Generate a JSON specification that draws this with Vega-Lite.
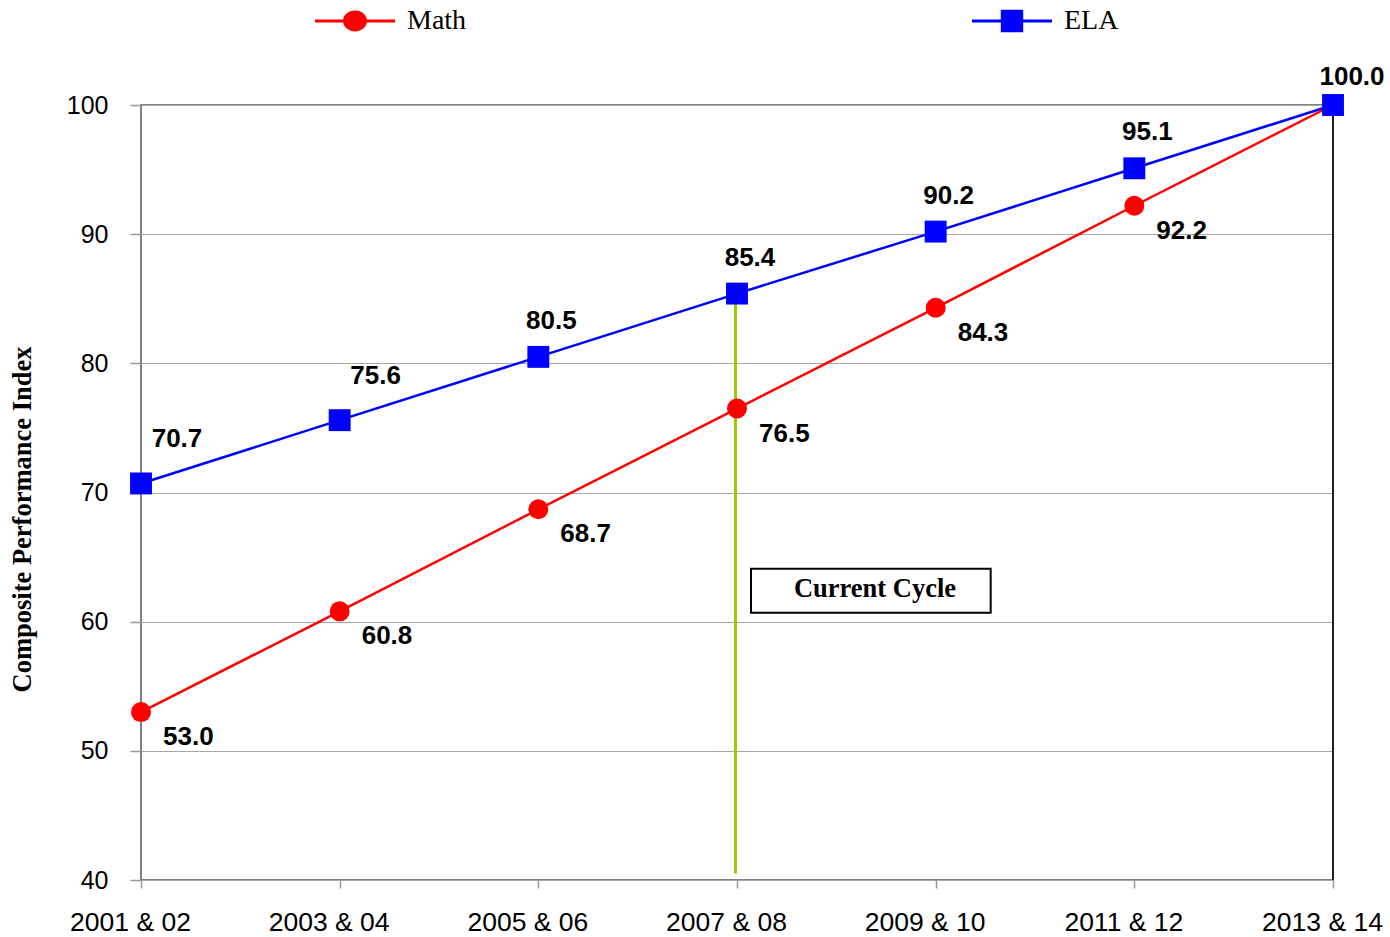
{
  "$schema": "https://vega.github.io/schema/vega-lite/v6.json",
  "width": 1192,
  "height": 775,
  "autosize": "none",
  "padding": {"left": 141, "top": 105, "right": 57, "bottom": 57},
  "background": "white",
  "config": {
    "view": {"stroke": "#808080", "strokeWidth": 2},
    "font": "Liberation Sans"
  },
  "datasets": {
    "scores": [
      {"period": "2001 & 02", "subject": "Math", "value": 53.0},
      {"period": "2003 & 04", "subject": "Math", "value": 60.8},
      {"period": "2005 & 06", "subject": "Math", "value": 68.7},
      {"period": "2007 & 08", "subject": "Math", "value": 76.5},
      {"period": "2009 & 10", "subject": "Math", "value": 84.3},
      {"period": "2011 & 12", "subject": "Math", "value": 92.2},
      {"period": "2013 & 14", "subject": "Math", "value": 100.0},
      {"period": "2001 & 02", "subject": "ELA", "value": 70.7},
      {"period": "2003 & 04", "subject": "ELA", "value": 75.6},
      {"period": "2005 & 06", "subject": "ELA", "value": 80.5},
      {"period": "2007 & 08", "subject": "ELA", "value": 85.4},
      {"period": "2009 & 10", "subject": "ELA", "value": 90.2},
      {"period": "2011 & 12", "subject": "ELA", "value": 95.1},
      {"period": "2013 & 14", "subject": "ELA", "value": 100.0}
    ],
    "annotations": [
      {"period": "2007 & 08", "top": 85.4, "bottom": 40.5}
    ],
    "border": [
      {"period": "2013 & 14", "top": 100, "bottom": 40}
    ],
    "box": [
      {"label": "Current Cycle", "from": "2007 & 08", "to": "2009 & 10", "top": 64.1, "bottom": 60.7, "mid": 62.5}
    ]
  },
  "encoding": {
    "x": {
      "field": "period",
      "type": "ordinal",
      "scale": {"type": "point", "padding": 0, "domain": ["2001 & 02", "2003 & 04", "2005 & 06", "2007 & 08", "2009 & 10", "2011 & 12", "2013 & 14"]},
      "axis": {
        "title": null,
        "domain": false,
        "labelAngle": 0,
        "labelFont": "Liberation Sans",
        "labelFontSize": 26.5,
        "labelColor": "#000000",
        "labelOffset": -11,
        "labelPadding": 21,
        "tickSize": 8,
        "tickColor": "#999999",
        "tickWidth": 1.5,
        "grid": false
      }
    },
    "y": {
      "field": "value",
      "type": "quantitative",
      "scale": {"domain": [40, 100], "nice": false, "zero": false},
      "axis": {
        "title": "Composite Performance Index",
        "titleFont": "Liberation Serif",
        "titleFontSize": 26.5,
        "titleFontWeight": "bold",
        "titleColor": "#000000",
        "titleAngle": -90,
        "titleAlign": "center",
        "titleBaseline": "middle",
        "titleX": -119,
        "titleY": 414,
        "values": [40, 50, 60, 70, 80, 90, 100],
        "domain": false,
        "labelFont": "Liberation Sans",
        "labelFontSize": 25,
        "labelColor": "#000000",
        "labelPadding": 22,
        "tickSize": 11,
        "tickColor": "#999999",
        "tickWidth": 1.5,
        "grid": true,
        "gridColor": "#a6a6a6",
        "gridWidth": 1.2
      }
    }
  },
  "layer": [
    {
      "data": {"name": "box"},
      "mark": {"type": "rect", "fill": "white", "stroke": "black", "strokeWidth": 2, "xOffset": 14, "x2Offset": 55},
      "encoding": {
        "x": {"field": "from", "type": "ordinal"},
        "x2": {"field": "to"},
        "y": {"field": "top", "type": "quantitative"},
        "y2": {"field": "bottom"}
      }
    },
    {
      "data": {"name": "box"},
      "mark": {"type": "text", "font": "Liberation Serif", "fontSize": 26.5, "fontWeight": "bold", "color": "black", "align": "center", "baseline": "middle", "dx": 138},
      "encoding": {
        "x": {"field": "from", "type": "ordinal"},
        "y": {"field": "mid", "type": "quantitative"},
        "text": {"field": "label"}
      }
    },
    {
      "data": {"name": "annotations"},
      "mark": {"type": "rule", "color": "#99cc00", "strokeWidth": 3, "xOffset": -1.5},
      "encoding": {
        "y": {"field": "top", "type": "quantitative"},
        "y2": {"field": "bottom"}
      }
    },
    {
      "data": {"name": "border"},
      "mark": {"type": "rule", "color": "black", "strokeWidth": 1.5},
      "encoding": {
        "y": {"field": "top", "type": "quantitative"},
        "y2": {"field": "bottom"}
      }
    },
    {
      "data": {"name": "scores"},
      "transform": [{"filter": "datum.subject === 'ELA'"}],
      "mark": {"type": "line", "strokeWidth": 2.5, "color": "#0000ff"},
      "encoding": {}
    },
    {
      "data": {"name": "scores"},
      "transform": [{"filter": "datum.subject === 'Math'"}],
      "mark": {"type": "line", "strokeWidth": 2.5, "color": "#ff0000"},
      "encoding": {}
    },
    {
      "data": {"name": "scores"},
      "transform": [{"filter": "datum.subject === 'Math'"}],
      "mark": {"type": "point", "shape": "circle", "filled": true, "size": 400, "color": "#ff0000", "opacity": 1}
    },
    {
      "data": {"name": "scores"},
      "transform": [{"filter": "datum.subject === 'ELA'"}],
      "mark": {"type": "point", "shape": "square", "filled": true, "size": 480, "color": "#0000ff", "opacity": 1}
    },
    {
      "data": {"name": "scores"},
      "transform": [{"filter": "datum.subject === 'Math' && datum.value < 100"}],
      "mark": {"type": "text", "align": "left", "baseline": "middle", "dx": 22, "dy": 25, "font": "Liberation Sans", "fontWeight": "bold", "fontSize": 26, "color": "black"},
      "encoding": {"text": {"field": "value", "type": "quantitative", "format": ".1f"}}
    },
    {
      "data": {"name": "scores"},
      "transform": [{"filter": "datum.subject === 'ELA' && datum.value > 76 && datum.value < 100"}],
      "mark": {"type": "text", "align": "center", "baseline": "middle", "dx": 13, "dy": -36, "font": "Liberation Sans", "fontWeight": "bold", "fontSize": 26, "color": "black"},
      "encoding": {"text": {"field": "value", "type": "quantitative", "format": ".1f"}}
    },
    {
      "data": {"name": "scores"},
      "transform": [{"filter": "datum.subject === 'ELA' && datum.value == 100"}],
      "mark": {"type": "text", "align": "center", "baseline": "middle", "dx": 19, "dy": -28, "font": "Liberation Sans", "fontWeight": "bold", "fontSize": 26, "color": "black"},
      "encoding": {"text": {"field": "value", "type": "quantitative", "format": ".1f"}}
    },
    {
      "data": {"name": "scores"},
      "transform": [{"filter": "datum.subject === 'ELA' && datum.value < 76"}],
      "mark": {"type": "text", "align": "center", "baseline": "middle", "dx": 36, "dy": -44, "font": "Liberation Sans", "fontWeight": "bold", "fontSize": 26, "color": "black"},
      "encoding": {"text": {"field": "value", "type": "quantitative", "format": ".1f"}}
    },
    {
      "data": {"name": "scores"},
      "mark": {"type": "point", "filled": true, "size": 0, "opacity": 1},
      "encoding": {
        "color": {
          "field": "subject", "type": "nominal",
          "scale": {"domain": ["Math", "ELA"], "range": ["#ff0000", "#0000ff"]},
          "legend": {
            "orient": "none", "direction": "horizontal", "title": null,
            "legendX": 174, "legendY": -124,
            "symbolSize": 6400, "symbolOpacity": 1, "symbolStrokeWidth": 0,
            "labelFont": "Liberation Serif", "labelFontSize": 28, "labelColor": "black",
            "labelOffset": 12, "columnPadding": 505, "labelLimit": 200
          }
        },
        "shape": {
          "field": "subject", "type": "nominal",
          "scale": {"domain": ["Math", "ELA"], "range": [
            "M-1,-0.035 H1 V0.035 H-1 Z M-0.3,0 A0.3,0.26 0 1,1 0.3,0 A0.3,0.26 0 1,1 -0.3,0 Z",
            "M-1,-0.035 H1 V0.035 H-1 Z M-0.28,-0.28 H0.28 V0.28 H-0.28 Z"
          ]},
          "legend": {
            "orient": "none", "direction": "horizontal", "title": null,
            "legendX": 174, "legendY": -124,
            "symbolSize": 6400, "symbolOpacity": 1, "symbolStrokeWidth": 0,
            "labelFont": "Liberation Serif", "labelFontSize": 28, "labelColor": "black",
            "labelOffset": 12, "columnPadding": 505, "labelLimit": 200
          }
        }
      }
    }
  ]
}
